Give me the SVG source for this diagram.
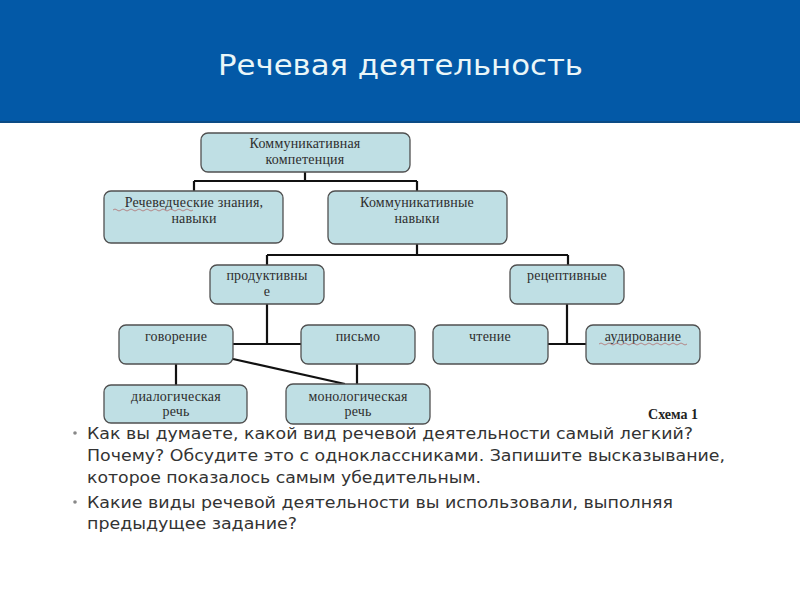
<svg xmlns="http://www.w3.org/2000/svg" width="800" height="600" viewBox="0 0 800 600">
<style>
.box{fill:#bfdfe4;stroke:#505050;stroke-width:1.3}
.lbl{font-family:"Liberation Serif","Times New Roman",serif;font-size:14px;fill:#2e2e2e;text-anchor:middle;letter-spacing:0.2px}
.con{stroke:#111;stroke-width:2.2;fill:none}
.body{font-family:"DejaVu Sans","Verdana",sans-serif;font-size:16px;fill:#333}
.bul{fill:#888}
.wavy{stroke:#b07070;stroke-width:0.8;fill:none}
</style>
<rect x="0" y="0" width="800" height="600" fill="#ffffff"/>
<rect x="0" y="0" width="800" height="123" fill="#0359a7"/>
<rect x="0" y="121" width="800" height="2" fill="#0b4b85"/>
<text x="218" y="75" font-family="DejaVu Sans, Verdana, sans-serif" font-size="27.5" fill="#eaf6f8" textLength="365" lengthAdjust="spacingAndGlyphs">Речевая деятельность</text>

<g id="connectors">
<path class="con" d="M305 172 V181 M194 181 H417 M194 181 V191 M417 181 V191"/>
<path class="con" d="M417 244 V255 M267 255 H568 M267 255 V265 M568 255 V265"/>
<path class="con" d="M267 304 V344 M233 344 H301"/>
<path class="con" d="M567 304 V344 M548 344 H586"/>
<path class="con" d="M176 364 V385 M357 364 V384 M233 359 L345 384"/>
</g>

<g id="n-kk"><rect class="box" x="201" y="133" width="209" height="39" rx="7"/>
<text class="lbl" x="305" y="148">Коммуникативная</text><text class="lbl" x="305" y="164">компетенция</text></g>

<g id="n-rz"><rect class="box" x="104" y="191" width="179" height="52" rx="7"/>
<text class="lbl" x="194" y="207">Речеведческие знания,</text><text class="lbl" x="194" y="223">навыки</text>
<path class="wavy" d="M113 210 q2 -2 4 0 t4 0 t4 0 t4 0 t4 0 t4 0 t4 0 t4 0 t4 0 t4 0 t4 0 t4 0 t4 0 t4 0 t4 0 t4 0 t4 0 t4 0 t4 0 t4 0"/></g>

<g id="n-kn"><rect class="box" x="328" y="191" width="179" height="53" rx="7"/>
<text class="lbl" x="417" y="207">Коммуникативные</text><text class="lbl" x="417" y="223">навыки</text></g>

<g id="n-prod"><rect class="box" x="210" y="265" width="114" height="39" rx="7"/>
<text class="lbl" x="267" y="280">продуктивны</text><text class="lbl" x="267" y="296">е</text></g>

<g id="n-rec"><rect class="box" x="510" y="265" width="114" height="39" rx="7"/>
<text class="lbl" x="567" y="280">рецептивные</text></g>

<g id="n-gov"><rect class="box" x="119" y="325" width="114" height="39" rx="7"/>
<text class="lbl" x="176" y="341">говорение</text></g>

<g id="n-pis"><rect class="box" x="301" y="325" width="114" height="39" rx="7"/>
<text class="lbl" x="358" y="341">письмо</text></g>

<g id="n-cht"><rect class="box" x="433" y="325" width="115" height="39" rx="7"/>
<text class="lbl" x="490" y="341">чтение</text></g>

<g id="n-aud"><rect class="box" x="586" y="325" width="114" height="39" rx="7"/>
<text class="lbl" x="643" y="341">аудирование</text>
<path class="wavy" d="M599 344 q2 -2 4 0 t4 0 t4 0 t4 0 t4 0 t4 0 t4 0 t4 0 t4 0 t4 0 t4 0 t4 0 t4 0 t4 0 t4 0 t4 0 t4 0 t4 0 t4 0 t4 0 t4 0 t4 0"/></g>

<g id="n-dia"><rect class="box" x="104" y="385" width="143" height="38" rx="7"/>
<text class="lbl" x="176" y="401">диалогическая</text><text class="lbl" x="176" y="416">речь</text></g>

<g id="n-mon"><rect class="box" x="286" y="384" width="144" height="40" rx="7"/>
<text class="lbl" x="358" y="401">монологическая</text><text class="lbl" x="358" y="416">речь</text></g>

<text x="698" y="419" font-family="Liberation Serif, Times New Roman, serif" font-size="14" font-weight="bold" fill="#222" text-anchor="end">Схема 1</text>

<g id="bullets">
<circle class="bul" cx="75" cy="433" r="1.8"/>
<circle class="bul" cx="75" cy="502" r="1.8"/>
<text class="body" x="87" y="439" textLength="606" lengthAdjust="spacingAndGlyphs">Как вы думаете, какой вид речевой деятельности самый легкий?</text>
<text class="body" x="87" y="461" textLength="638" lengthAdjust="spacingAndGlyphs">Почему? Обсудите это с одноклассниками. Запишите высказывание,</text>
<text class="body" x="87" y="483" textLength="394" lengthAdjust="spacingAndGlyphs">которое показалось самым убедительным.</text>
<text class="body" x="87" y="508" textLength="586" lengthAdjust="spacingAndGlyphs">Какие виды речевой деятельности вы использовали, выполняя</text>
<text class="body" x="87" y="529" textLength="210" lengthAdjust="spacingAndGlyphs">предыдущее задание?</text>
</g>
</svg>
